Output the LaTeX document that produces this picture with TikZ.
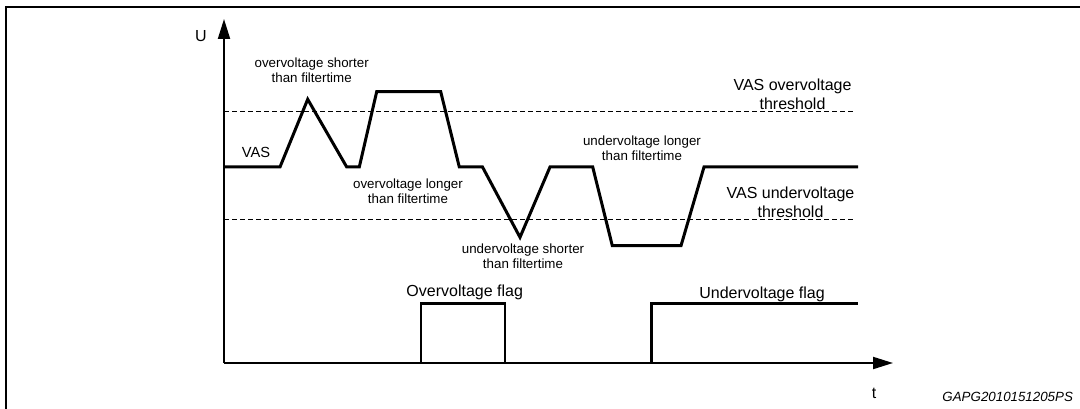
\documentclass[tikz,border=0pt]{standalone}
\usepackage{fontspec}
\setmainfont{Liberation Sans}
\usetikzlibrary{arrows.meta}
\tikzset{
  signal/.style={line width=2.25pt, line join=miter},
  flagline/.style={line width=2pt},
  axis/.style={line width=1.5pt, -{Triangle[length=15pt,width=9pt]}},
  threshold/.style={line width=0.75pt, dash pattern=on 3.75pt off 2.25pt},
  smalllabel/.style={font=\fontsize{10}{11.25}\selectfont, align=center, inner sep=0pt},
  biglabel/.style={font=\fontsize{12}{13.75}\selectfont, align=center, inner sep=0pt},
}
\begin{document}
\begin{tikzpicture}[x=0.75pt, y=-0.75pt]
  \useasboundingbox (0,0) rectangle (1080,409);
  \draw[line width=1.5pt] (6,409) -- (6,7) -- (1080,7);

  \coordinate (origin) at (224,363);
  \coordinate (utip) at (224,19);
  \coordinate (ttip) at (893,363);
  \draw[axis] (origin) -- (utip);
  \draw[axis] (origin) -- (ttip);
  \node[biglabel] (ulabel) at (201,36) {U};
  \node[biglabel] (tlabel) at (874,393) {t};

  \draw[threshold] (224,112) -- (854,112);
  \draw[threshold] (224,220) -- (854,220);

  \draw[signal] (224,167) -- (280,167) -- (307.7,99.3) -- (346.7,167) -- (359.3,167) -- (376.7,91.7) -- (440.7,91.7) -- (459.3,167) -- (482.5,167) -- (520,237.3) -- (550,167) -- (592.7,167) -- (612.3,245.7) -- (681,245.7) -- (704,167) -- (858,167);

  \draw[flagline] (421,363) -- (421,303.3) -- (505,303.3) -- (505,363);
  \draw[flagline] (651.5,363) -- (651.5,303.3) -- (858,303.3);

  \node[font=\fontsize{11}{13}\selectfont, inner sep=0pt] (vas) at (256,152.7) {VAS};
  \node[smalllabel] (ovshort) at (311.7,70) {overvoltage shorter\\than filtertime};
  \node[smalllabel] (ovlong) at (408,190.8) {overvoltage longer\\than filtertime};
  \node[smalllabel] (uvshort) at (523,256.7) {undervoltage shorter\\than filtertime};
  \node[smalllabel] (uvlong) at (642,148.7) {undervoltage longer\\than filtertime};
  \node[biglabel] (ovthr) at (792.5,94.2) {VAS overvoltage\\threshold};
  \node[biglabel] (uvthr) at (790.5,202.2) {VAS undervoltage\\threshold};
  \node[biglabel] (ovflag) at (464.7,292.7) {Overvoltage flag};
  \node[biglabel] (uvflag) at (762,294) {Undervoltage flag};
  \node[font=\fontsize{10}{12}\selectfont\itshape, inner sep=0pt] (figid) at (1007.7,396.7) {GAPG2010151205PS};
\end{tikzpicture}
\end{document}
